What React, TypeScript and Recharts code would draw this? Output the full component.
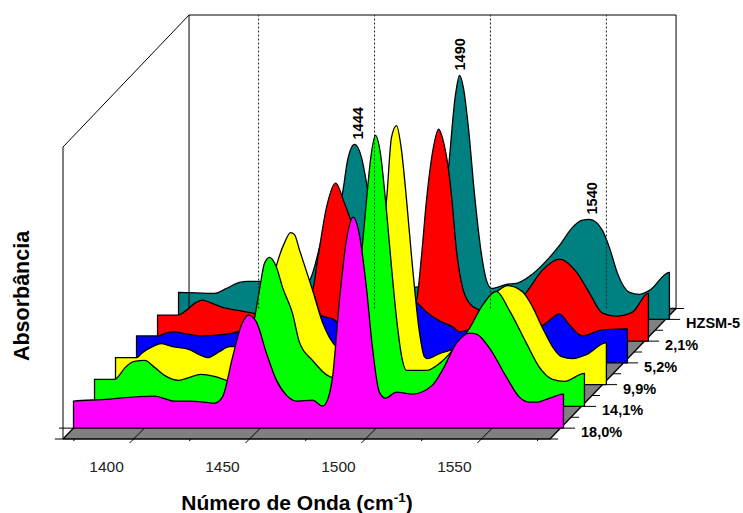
import { ComposedChart, Area, XAxis, YAxis, ReferenceLine, ReferenceDot, Label } from "recharts";

const FONT = "'Liberation Sans', Arial, sans-serif";

// depth step between two spectra, in axis units
const DEPTH_X = 9.06;
const DEPTH_Y = 0.2175;

const WN_MIN = 1370;
const WN_FLOOR = 1580;
const WN_MAX = 1634.4;
const ABS_MAX = 4.24;

const samples = ["18,0%", "14,1%", "9,9%", "5,2%", "2,1%", "HZSM-5"];
const colors = ["#ff00ff", "#00ff00", "#ffff00", "#0000ff", "#ff0000", "#008080"];
const xTicks = [1375, 1400, 1425, 1450, 1475, 1500, 1525, 1550, 1575];
const majorTicks = [1400, 1450, 1500, 1550];

const wn18 = [1370, 1385.5, 1389.8, 1404.9, 1413.6, 1420, 1426.5, 1430.8, 1434.2, 1438.6, 1442.4, 1445.5, 1448.9, 1453.2, 1457.5, 1461.8, 1466.2, 1473.1, 1477.4, 1479.5, 1481.7, 1484.7, 1487.7, 1490.7, 1492.9, 1496.3, 1498.9, 1501.9, 1504.5, 1509.3, 1516.2, 1524.8, 1529.1, 1535.2, 1540.8, 1543.8, 1549.4, 1556.7, 1562.3, 1566.6, 1569.6, 1575.3, 1581.3];
const abs18 = [0.27, 0.29, 0.3, 0.32, 0.27, 0.27, 0.26, 0.25, 0.31, 0.71, 1.03, 1.13, 1.06, 0.75, 0.48, 0.33, 0.27, 0.28, 0.22, 0.28, 0.51, 1.28, 1.88, 2.11, 1.98, 1.41, 0.81, 0.36, 0.3, 0.36, 0.34, 0.43, 0.58, 0.85, 0.95, 0.94, 0.8, 0.51, 0.31, 0.26, 0.26, 0.3, 0.34];

const wn14 = [1370, 1378.6, 1379.9, 1382.9, 1387.2, 1391.6, 1395.9, 1400.2, 1406.2, 1411, 1415.7, 1421.7, 1426.9, 1431.7, 1436, 1439, 1441.1, 1443.3, 1445.5, 1448.5, 1451.1, 1455.4, 1458.4, 1464, 1472.6, 1477.8, 1480.8, 1483.4, 1485.6, 1487.3, 1489, 1491.2, 1493.3, 1495.5, 1498.1, 1500.2, 1502.8, 1504.5, 1513.2, 1518.8, 1524.4, 1531.7, 1537.3, 1543.3, 1548.9, 1556.3, 1561.9, 1567.5, 1572.7, 1581.3];
const abs14 = [0.27, 0.27, 0.29, 0.38, 0.45, 0.46, 0.39, 0.31, 0.26, 0.29, 0.32, 0.3, 0.26, 0.23, 0.56, 0.88, 1.16, 1.43, 1.49, 1.39, 1.19, 0.93, 0.64, 0.46, 0.29, 0.28, 0.66, 1.16, 1.63, 2.06, 2.46, 2.71, 2.53, 2.06, 1.39, 0.89, 0.46, 0.36, 0.36, 0.43, 0.56, 0.78, 1.01, 1.15, 0.96, 0.63, 0.39, 0.27, 0.25, 0.33];

const wn99 = [1370, 1379.1, 1381.6, 1386, 1389.8, 1394.6, 1401.9, 1406.2, 1409.7, 1414.8, 1419.2, 1422.6, 1427.8, 1433, 1436.4, 1439.9, 1442.9, 1445.5, 1447.2, 1449.3, 1454.9, 1459.3, 1465.3, 1470.9, 1476.1, 1480.4, 1483.8, 1486.9, 1489, 1491.2, 1493.3, 1495.5, 1497.6, 1501.1, 1503.2, 1504.5, 1509.7, 1516.2, 1522.6, 1529.1, 1535.6, 1539, 1545.5, 1549.8, 1554.1, 1559.3, 1562.3, 1567.1, 1573.1, 1581.7];
const abs99 = [0.27, 0.27, 0.32, 0.38, 0.41, 0.38, 0.35, 0.3, 0.27, 0.33, 0.38, 0.38, 0.4, 0.65, 0.9, 1.23, 1.42, 1.52, 1.5, 1.35, 0.95, 0.62, 0.38, 0.33, 0.4, 0.75, 1.35, 1.85, 2.47, 2.59, 2.35, 1.85, 1.3, 0.52, 0.28, 0.26, 0.31, 0.36, 0.45, 0.8, 0.95, 0.99, 0.93, 0.78, 0.57, 0.35, 0.28, 0.26, 0.3, 0.42];

const wn52 = [1370, 1379.1, 1382.9, 1386.4, 1391.6, 1398, 1405.8, 1413.6, 1420.9, 1429.5, 1438.1, 1445.5, 1449.8, 1454.5, 1457.1, 1461.8, 1468.3, 1474.8, 1480, 1484.7, 1490.7, 1495, 1500.7, 1506.3, 1509.3, 1513.6, 1522.2, 1530.8, 1539.5, 1546.8, 1552.4, 1556.7, 1562.3, 1570.9, 1581.7];
const abs52 = [0.27, 0.27, 0.3, 0.31, 0.29, 0.27, 0.28, 0.31, 0.43, 0.68, 0.78, 0.73, 0.47, 0.44, 0.4, 0.33, 0.28, 0.38, 0.63, 0.73, 0.61, 0.51, 0.42, 0.36, 0.31, 0.33, 0.28, 0.28, 0.3, 0.4, 0.49, 0.38, 0.27, 0.33, 0.34];

const wn21 = [1370, 1378.6, 1382.5, 1386.8, 1389.4, 1393.3, 1397.6, 1404.1, 1411, 1418.3, 1426.9, 1433.4, 1436.8, 1439, 1442.9, 1446.8, 1450.6, 1453.7, 1458, 1463.6, 1470, 1476.5, 1481.7, 1483.8, 1486, 1489, 1491.2, 1492.9, 1495.9, 1496.8, 1498.9, 1501.5, 1504.5, 1508.8, 1515.3, 1521.8, 1529.1, 1536, 1543.3, 1550.7, 1556.3, 1561.9, 1567.9, 1574.8, 1581.7];
const abs21 = [0.26, 0.26, 0.31, 0.39, 0.41, 0.38, 0.34, 0.31, 0.28, 0.26, 0.31, 0.46, 0.51, 0.81, 1.34, 1.58, 1.38, 1.18, 0.76, 0.36, 0.23, 0.23, 0.41, 0.84, 1.41, 1.94, 2.12, 2.03, 1.64, 1.45, 0.91, 0.54, 0.38, 0.31, 0.26, 0.31, 0.49, 0.71, 0.82, 0.69, 0.48, 0.28, 0.25, 0.29, 0.48];

const wn0 = [1370, 1385.5, 1390.7, 1396.3, 1399.8, 1404.9, 1411.4, 1420, 1426.5, 1433, 1437.3, 1440.7, 1442.9, 1445.9, 1448.9, 1451.1, 1454.5, 1461, 1467.5, 1471.8, 1477.4, 1481.7, 1483.8, 1486, 1489.4, 1491.2, 1492.9, 1495, 1497.6, 1500.7, 1502.8, 1505, 1511.4, 1515.7, 1520.1, 1530, 1534.3, 1539.9, 1543.8, 1547.2, 1550.2, 1552.8, 1555.8, 1559.3, 1564.5, 1568.8, 1573.1, 1581.7];
const abs0 = [0.27, 0.26, 0.31, 0.37, 0.38, 0.38, 0.29, 0.29, 0.39, 0.89, 1.04, 1.26, 1.59, 1.75, 1.62, 1.36, 0.84, 0.49, 0.34, 0.32, 0.39, 0.79, 1.09, 1.42, 2.24, 2.44, 2.31, 1.92, 1.26, 0.64, 0.39, 0.31, 0.35, 0.36, 0.41, 0.62, 0.74, 0.92, 0.99, 1.0, 0.97, 0.89, 0.72, 0.46, 0.27, 0.25, 0.29, 0.47];

const wavenumbers = [wn18, wn14, wn99, wn52, wn21, wn0];
const absorbances = [abs18, abs14, abs99, abs52, abs21, abs0];

const peakWn = [1445.9, 1491.2, 1547.2];
const peakAbs = [1.75, 2.44, 1.0];
const peakText = ["1444", "1490", "1540"];
const peakNudge = [8, 5, 8];

const shiftX = (depth: number) => (depth + 0.5) * DEPTH_X;
const shiftY = (depth: number) => (depth + 0.5) * DEPTH_Y;

// one spectrum as a band above its own base line, closed on both sides
function spectrumRows(depth: number) {
  const base = shiftY(depth);
  const xs = wavenumbers[depth];
  const ys = absorbances[depth];
  const rows = xs.map((w, i) => ({ x: w + shiftX(depth), band: [base, base + ys[i]] }));
  const first = rows[0];
  const last = rows[rows.length - 1];
  return [{ x: first.x, band: [base, base] }, ...rows, { x: last.x, band: [base, base] }];
}

const floorRows = [
  { x: WN_MIN, band: [0, 0] },
  { x: WN_MIN + 6 * DEPTH_X, band: [0, 6 * DEPTH_Y] },
  { x: WN_FLOOR, band: [0, 6 * DEPTH_Y] },
  { x: WN_MAX, band: [6 * DEPTH_Y, 6 * DEPTH_Y] },
];

const backLeft = WN_MIN + 6 * DEPTH_X;
const backBottom = 6 * DEPTH_Y;

function XTick({ x, y, payload }: any) {
  const major = majorTicks.includes(payload.value);
  return (
    <g>
      {major ? (
        <line x1={x - 3} y1={y + 4} x2={x + 12} y2={y - 11} stroke="#000" strokeWidth={1} />
      ) : (
        <line x1={x} y1={y} x2={x - 1} y2={y + 2} stroke="#000" strokeWidth={1} />
      )}
      {major && (
        <text x={x - 26} y={y + 33} textAnchor="middle" fontFamily={FONT} fontSize={15.5} fill="#222">
          {payload.value}
        </text>
      )}
    </g>
  );
}

export default function App() {
  return (
    <div style={{ position: "absolute", left: 0, top: 0, width: 743, height: 513 }}>
      <ComposedChart width={743} height={513} margin={{ top: 15, right: 66, bottom: 0, left: 0 }}>
        <XAxis
          type="number"
          dataKey="x"
          domain={[WN_MIN, 1634.8]}
          ticks={xTicks}
          interval={0}
          height={74}
          axisLine={false}
          tickLine={false}
          tickSize={0}
          tickMargin={0}
          tick={<XTick />}
        >
          <Label
            content={({ viewBox }: any) => (
              <text x={viewBox.x + 234} y={viewBox.y + 71} textAnchor="middle" fontFamily={FONT} fontSize={21} fontWeight="bold" fill="#000">
                Número de Onda (cm
                <tspan dy={-8} fontSize={13.5}>-1</tspan>
                <tspan dy={8}>)</tspan>
              </text>
            )}
          />
        </XAxis>
        <YAxis type="number" width={63} domain={[0, ABS_MAX]} ticks={[]} tick={false} axisLine={false} tickLine={false}>
          <Label
            content={() => (
              <text transform="translate(29,296) rotate(-90)" textAnchor="middle" fontFamily={FONT} fontSize={21.5} fontWeight="bold" fill="#000">
                Absorbância
              </text>
            )}
          />
        </YAxis>

        {/* walls */}
        <ReferenceLine segment={[{ x: WN_MIN, y: 0 }, { x: WN_MIN, y: 2.92 }]} stroke="#000" ifOverflow="visible" />
        <ReferenceLine segment={[{ x: WN_MIN, y: 2.92 }, { x: backLeft, y: ABS_MAX }]} stroke="#000" ifOverflow="visible" />
        <ReferenceLine segment={[{ x: backLeft, y: backBottom }, { x: backLeft, y: ABS_MAX }]} stroke="#000" ifOverflow="visible" />
        <ReferenceLine segment={[{ x: backLeft, y: ABS_MAX }, { x: WN_MAX, y: ABS_MAX }]} stroke="#000" ifOverflow="visible" />
        <ReferenceLine segment={[{ x: WN_MAX, y: backBottom }, { x: WN_MAX, y: ABS_MAX }]} stroke="#000" ifOverflow="visible" />
        {majorTicks.map((t) => (
          <ReferenceLine
            key={t}
            segment={[{ x: t + 6 * DEPTH_X, y: backBottom }, { x: t + 6 * DEPTH_X, y: ABS_MAX }]}
            stroke="#222"
            strokeDasharray="2 2"
            ifOverflow="visible"
          />
        ))}

        <Area data={floorRows} dataKey="band" type="linear" fill="#808080" fillOpacity={1} stroke="#000" strokeWidth={1.3} dot={false} activeDot={false} isAnimationActive={false} />

        {/* left stubs of the floor */}
        <ReferenceLine segment={[{ x: 1366.5, y: 0 }, { x: WN_MIN, y: 0 }]} stroke="#000" ifOverflow="visible" />
        <ReferenceLine segment={[{ x: 1368.3, y: shiftY(0) }, { x: WN_MIN + shiftX(0), y: shiftY(0) }]} stroke="#000" ifOverflow="visible" />

        {/* depth ticks and sample names on the right */}
        {[-0.5, 0.5, 1.5, 2.5, 3.5, 4.5, 5.5].map((t) => (
          <ReferenceLine
            key={t}
            segment={[{ x: WN_FLOOR + shiftX(t), y: shiftY(t) }, { x: WN_FLOOR + shiftX(t) + 3.5, y: shiftY(t) }]}
            stroke="#000"
            ifOverflow="visible"
          />
        ))}
        {samples.map((name, k) => (
          <ReferenceLine
            key={name}
            segment={[{ x: WN_FLOOR + shiftX(k), y: shiftY(k) }, { x: WN_FLOOR + shiftX(k) + 6.3, y: shiftY(k) }]}
            stroke="#000"
            ifOverflow="visible"
          >
            <Label
              content={({ viewBox }: any) => (
                <text x={viewBox.x + viewBox.width + 6} y={viewBox.y + 9} fontFamily={FONT} fontSize={14.5} fontWeight="bold" fill="#000">
                  {name}
                </text>
              )}
            />
          </ReferenceLine>
        ))}

        {/* spectra, back to front */}
        {[5, 4, 3, 2, 1, 0].map((k) => (
          <Area
            key={samples[k]}
            data={spectrumRows(k)}
            dataKey="band"
            type="monotone"
            fill={colors[k]}
            fillOpacity={1}
            stroke="#000"
            strokeWidth={1.3}
            dot={false}
            activeDot={false}
            isAnimationActive={false}
          />
        ))}

        {peakText.map((text, i) => (
          <ReferenceDot
            key={text}
            x={peakWn[i] + shiftX(5)}
            y={peakAbs[i] + shiftY(5)}
            r={0}
            fill="none"
            stroke="none"
            ifOverflow="visible"
          >
            <Label
              content={({ viewBox }: any) => (
                <text
                  transform={`translate(${viewBox.x + peakNudge[i]},${viewBox.y - 21}) rotate(-90)`}
                  textAnchor="middle"
                  fontFamily={FONT}
                  fontSize={14.5}
                  fontWeight="bold"
                  fill="#000"
                >
                  {text}
                </text>
              )}
            />
          </ReferenceDot>
        ))}
      </ComposedChart>
    </div>
  );
}
